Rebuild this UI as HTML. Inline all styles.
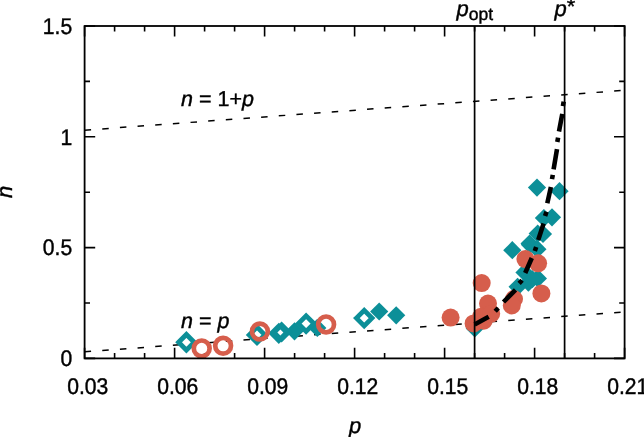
<!DOCTYPE html>
<html><head><meta charset="utf-8"><title>n vs p</title>
<style>
html,body{margin:0;padding:0;background:#fff;}
svg{display:block}
text{font-family:"Liberation Sans",Arial,sans-serif;fill:#000;stroke:#000;stroke-width:0.4px;text-rendering:geometricPrecision;}
</style></head><body>
<svg width="644" height="437" viewBox="0 0 644 437">
<rect width="644" height="437" fill="#fff"/>

<line x1="84.6" y1="351.8" x2="624.6" y2="311.9" stroke="#000" stroke-width="1.5" stroke-dasharray="6.5,11.2"/>
<line x1="84.6" y1="130.2" x2="624.6" y2="90.3" stroke="#000" stroke-width="1.5" stroke-dasharray="6.5,11.2"/>
<path d="M84.6,26v10.6M84.6,358.4v-10.6M114.6,26v5.4M114.6,358.4v-5.4M144.6,26v5.4M144.6,358.4v-5.4M174.6,26v10.6M174.6,358.4v-10.6M204.6,26v5.4M204.6,358.4v-5.4M234.6,26v5.4M234.6,358.4v-5.4M264.6,26v10.6M264.6,358.4v-10.6M294.6,26v5.4M294.6,358.4v-5.4M324.6,26v5.4M324.6,358.4v-5.4M354.6,26v10.6M354.6,358.4v-10.6M384.6,26v5.4M384.6,358.4v-5.4M414.6,26v5.4M414.6,358.4v-5.4M444.6,26v10.6M444.6,358.4v-10.6M474.6,26v5.4M474.6,358.4v-5.4M504.6,26v5.4M504.6,358.4v-5.4M534.6,26v10.6M534.6,358.4v-10.6M564.6,26v5.4M564.6,358.4v-5.4M594.6,26v5.4M594.6,358.4v-5.4M624.6,26v10.6M624.6,358.4v-10.6M84.6,358.4h10.6M624.6,358.4h-10.6M84.6,303.0h5.4M624.6,303.0h-5.4M84.6,247.6h10.6M624.6,247.6h-10.6M84.6,192.2h5.4M624.6,192.2h-5.4M84.6,136.8h10.6M624.6,136.8h-10.6M84.6,81.4h5.4M624.6,81.4h-5.4M84.6,26.0h10.6M624.6,26.0h-10.6" stroke="#000" stroke-width="1.6" fill="none"/>
<polygon points="527.9,187.6 537.0,178.5 546.1,187.6 537.0,196.7" fill="#0c8f98"/>
<polygon points="550.4,191.2 559.5,182.1 568.6,191.2 559.5,200.3" fill="#0c8f98"/>
<polygon points="534.8,218.0 543.9,208.9 553.0,218.0 543.9,227.1" fill="#0c8f98"/>
<polygon points="542.9,217.3 552.0,208.2 561.1,217.3 552.0,226.4" fill="#0c8f98"/>
<polygon points="528.6,233.5 537.7,224.4 546.8,233.5 537.7,242.6" fill="#0c8f98"/>
<polygon points="533.9,234.0 543.0,224.9 552.1,234.0 543.0,243.1" fill="#0c8f98"/>
<polygon points="520.9,244.8 530.0,235.7 539.1,244.8 530.0,253.9" fill="#0c8f98"/>
<polygon points="520.5,243.6 529.6,234.5 538.7,243.6 529.6,252.7" fill="#0c8f98"/>
<polygon points="528.3,249.2 537.4,240.1 546.5,249.2 537.4,258.3" fill="#0c8f98"/>
<polygon points="503.2,250.2 512.3,241.1 521.4,250.2 512.3,259.3" fill="#0c8f98"/>
<polygon points="465.7,328.4 474.8,319.3 483.9,328.4 474.8,337.5" fill="#0c8f98"/>
<polygon points="515.4,272.4 524.5,263.3 533.6,272.4 524.5,281.5" fill="#0c8f98"/>
<polygon points="528.8,278.4 537.9,269.3 547.0,278.4 537.9,287.5" fill="#0c8f98"/>
<polygon points="508.5,286.8 517.6,277.7 526.7,286.8 517.6,295.9" fill="#0c8f98"/>
<polygon points="519.3,282.6 528.4,273.5 537.5,282.6 528.4,291.7" fill="#0c8f98"/>
<polygon points="523.2,279.2 532.3,270.1 541.4,279.2 532.3,288.3" fill="#0c8f98"/>
<polygon points="285.4,331.3 294.5,322.2 303.6,331.3 294.5,340.4" fill="#0c8f98"/>
<polygon points="308.2,327.9 317.3,318.8 326.4,327.9 317.3,337.0" fill="#0c8f98"/>
<polygon points="370.1,311.5 379.2,302.4 388.3,311.5 379.2,320.6" fill="#0c8f98"/>
<polygon points="387.1,315.3 396.2,306.2 405.3,315.3 396.2,324.4" fill="#0c8f98"/>
<polygon points="268.2,333.3 278.8,322.7 289.4,333.3 278.8,343.9" fill="#0c8f98"/>
<polygon points="271.0,332.0 281.6,321.4 292.2,332.0 281.6,342.6" fill="#0c8f98"/>
<polygon points="277.4,332.6 280.4,329.6 283.4,332.6 280.4,335.6" fill="#fff"/>
<polygon points="178.6,342.3 186.4,334.5 194.2,342.3 186.4,350.1" fill="none" stroke="#0c8f98" stroke-width="4.8"/>
<polygon points="249.2,334.9 257.0,327.1 264.8,334.9 257.0,342.7" fill="none" stroke="#0c8f98" stroke-width="4.8"/>
<polygon points="298.3,323.6 306.1,315.8 313.9,323.6 306.1,331.4" fill="none" stroke="#0c8f98" stroke-width="4.8"/>
<polygon points="356.4,318.1 364.2,310.3 372.0,318.1 364.2,325.9" fill="none" stroke="#0c8f98" stroke-width="4.8"/>
<circle cx="450.6" cy="317.6" r="9" fill="#d65e4c"/>
<circle cx="473.6" cy="323.4" r="9" fill="#d65e4c"/>
<circle cx="481.7" cy="283.1" r="9" fill="#d65e4c"/>
<circle cx="488" cy="303.6" r="9" fill="#d65e4c"/>
<circle cx="481.1" cy="316.7" r="9" fill="#d65e4c"/>
<circle cx="483.7" cy="320.7" r="9" fill="#d65e4c"/>
<circle cx="491.2" cy="313.7" r="9" fill="#d65e4c"/>
<circle cx="514" cy="299" r="9" fill="#d65e4c"/>
<circle cx="511.8" cy="305.5" r="9" fill="#d65e4c"/>
<circle cx="541.4" cy="293.4" r="9" fill="#d65e4c"/>
<circle cx="525.4" cy="259.1" r="9" fill="#d65e4c"/>
<circle cx="538.1" cy="263.3" r="9" fill="#d65e4c"/>
<circle cx="201.7" cy="348.4" r="7.9" fill="none" stroke="#d65e4c" stroke-width="4.7"/>
<circle cx="223.1" cy="345.8" r="7.9" fill="none" stroke="#d65e4c" stroke-width="4.7"/>
<circle cx="259.9" cy="331.5" r="7.9" fill="none" stroke="#d65e4c" stroke-width="4.7"/>
<circle cx="326.1" cy="324.4" r="7.9" fill="none" stroke="#d65e4c" stroke-width="4.7"/>
<line x1="474.6" y1="26" x2="474.6" y2="358.4" stroke="#000" stroke-width="1.7"/>
<line x1="564.6" y1="26" x2="564.6" y2="358.4" stroke="#000" stroke-width="1.7"/>
<path d="M474.6,324.5L488.7,316.7M503.5,302L515.5,289.8M525.2,273L531.8,258M538.2,240L543.6,223.5M547.3,203.2L550.9,187M553.6,169.3L557,149.2M559,131.5L562.3,113.9M495.2,311.2L498.2,308.0M519.1,283.4L522.1,280.2M534.8,251.1L536.2,246.9M545.1,215.9L546.5,211.7M552.0,179.2L552.8,174.8M557.3,142.0L558.1,137.6M562.9,106.1L563.7,101.7" fill="none" stroke="#000" stroke-width="4.6"/>
<rect x="84.6" y="26" width="540.0" height="332.4" fill="none" stroke="#000" stroke-width="1.8"/>
<text transform="translate(87.7,394.3) scale(0.96,1.03)" font-size="22" text-anchor="middle">0.03</text>
<text transform="translate(177.7,394.3) scale(0.96,1.03)" font-size="22" text-anchor="middle">0.06</text>
<text transform="translate(267.7,394.3) scale(0.96,1.03)" font-size="22" text-anchor="middle">0.09</text>
<text transform="translate(357.7,394.3) scale(0.96,1.03)" font-size="22" text-anchor="middle">0.12</text>
<text transform="translate(447.7,394.3) scale(0.96,1.03)" font-size="22" text-anchor="middle">0.15</text>
<text transform="translate(537.7,394.3) scale(0.96,1.03)" font-size="22" text-anchor="middle">0.18</text>
<text transform="translate(627.7,394.3) scale(0.96,1.03)" font-size="22" text-anchor="middle">0.21</text>
<text transform="translate(72.2,366.1) scale(0.96,1.03)" font-size="22" text-anchor="end">0</text>
<text transform="translate(72.2,255.3) scale(0.96,1.03)" font-size="22" text-anchor="end">0.5</text>
<text transform="translate(72.2,144.5) scale(0.96,1.03)" font-size="22" text-anchor="end">1</text>
<text transform="translate(72.2,33.7) scale(0.96,1.03)" font-size="22" text-anchor="end">1.5</text>
<text x="355" y="433" font-size="22" font-style="italic" text-anchor="middle">p</text>
<text transform="translate(11.7,191.9) rotate(-90)" font-size="22" font-style="italic" text-anchor="middle">n</text>
<text x="181" y="105.5" font-size="21.5"><tspan font-style="italic">n</tspan> = 1+<tspan font-style="italic">p</tspan></text>
<text x="181" y="328" font-size="21.5"><tspan font-style="italic">n</tspan> = <tspan font-style="italic">p</tspan></text>
<text x="456.5" y="15.5" font-size="22"><tspan font-style="italic">p</tspan><tspan font-size="17.5" dy="4.4">opt</tspan></text>
<text x="554.5" y="15.5" font-size="22"><tspan font-style="italic">p</tspan><tspan dy="-2">*</tspan></text>
</svg></body></html>
